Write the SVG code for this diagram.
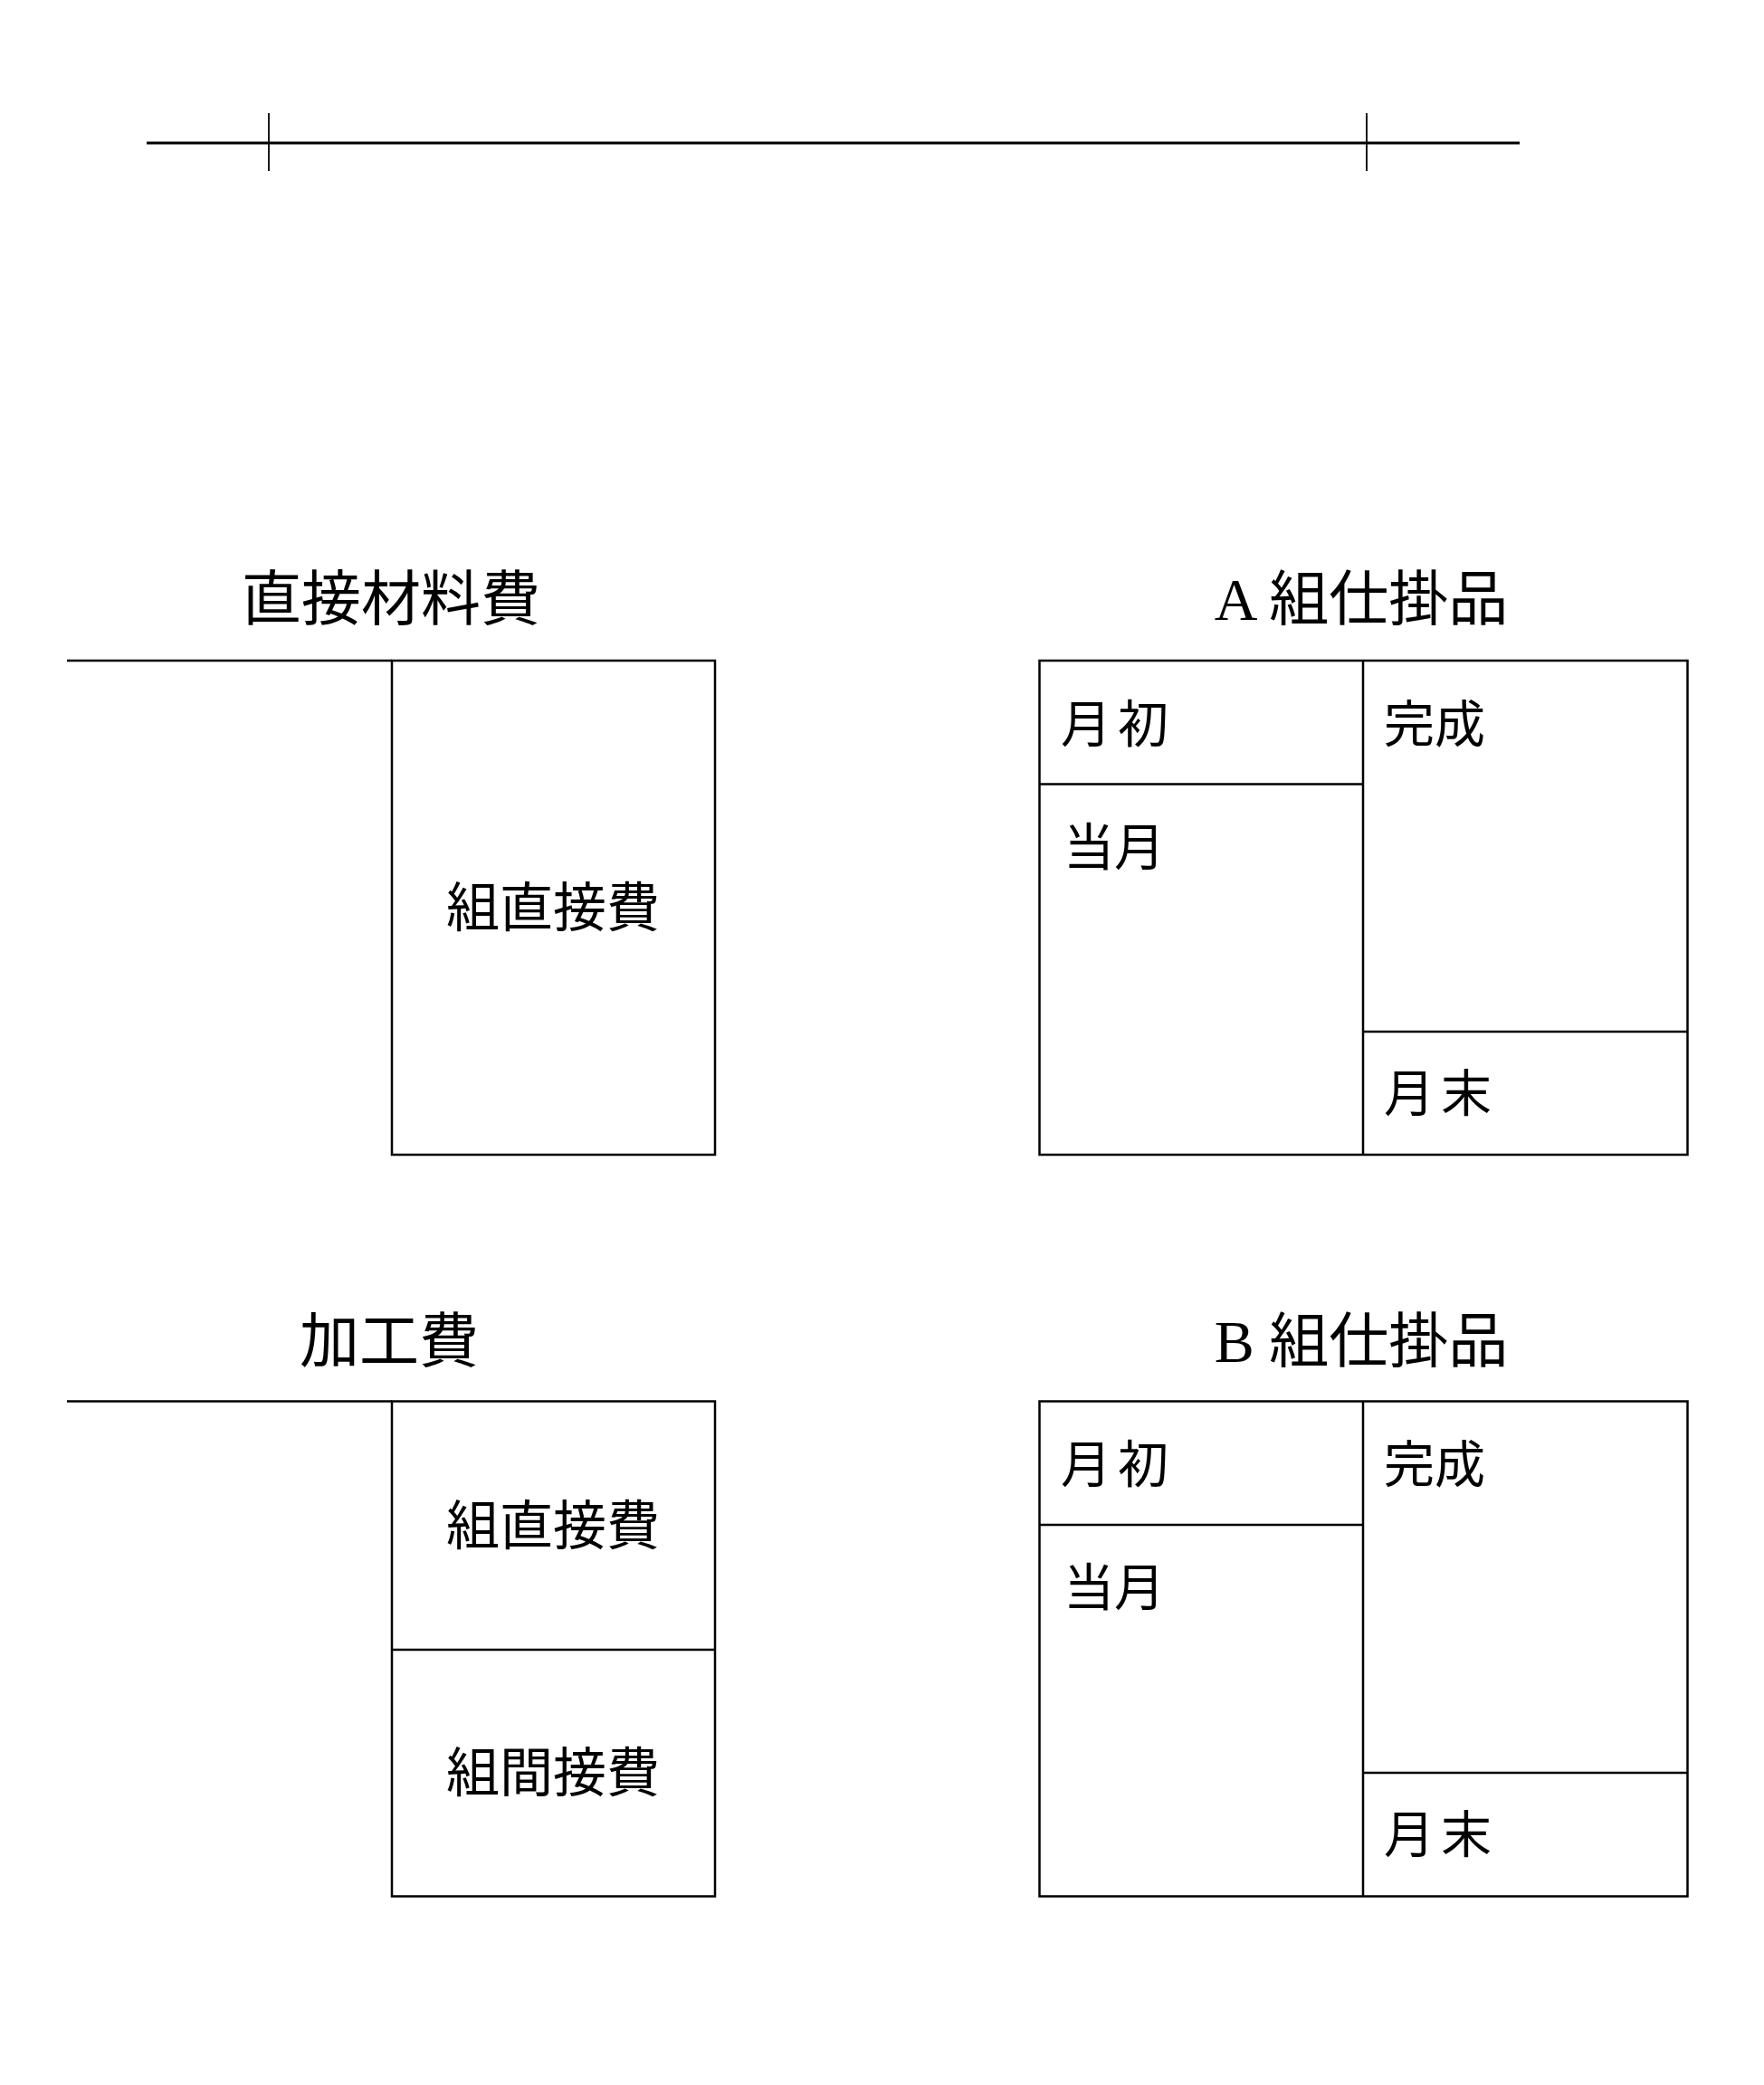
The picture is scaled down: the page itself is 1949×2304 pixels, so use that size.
<svg xmlns="http://www.w3.org/2000/svg" width="1949" height="2304" viewBox="0 0 1949 2304">
<style>
.ln{stroke:#000;stroke-width:2.5;fill:none}
.tk{stroke:#000;stroke-width:1.8;fill:none}
.top{stroke:#000;stroke-width:3;fill:none}
text{font-family:"Liberation Serif","Noto Sans CJK JP",serif;fill:#000;dominant-baseline:central}
.ti{font-size:66px;text-anchor:middle}
.bl{font-size:59px;text-anchor:middle}
.cl{font-size:56px}
.sp{letter-spacing:7px}
</style>
<rect width="1949" height="2304" fill="#fff"/>
<g id="timeline">
<line class="top" x1="162" y1="158" x2="1679" y2="158"/>
<line class="tk" x1="297" y1="125" x2="297" y2="189"/>
<line class="tk" x1="1510" y1="125" x2="1510" y2="189"/>
</g>
<g id="direct-material">
<text class="ti" x="432" y="662">直接材料費</text>
<line class="ln" x1="74" y1="730" x2="433" y2="730"/>
<rect class="ln" x="433" y="730" width="357" height="546"/>
<text class="bl" x="611" y="1004">組直接費</text>
</g>
<g id="conversion">
<text class="ti" x="430" y="1482">加工費</text>
<line class="ln" x1="74" y1="1548.5" x2="433" y2="1548.5"/>
<rect class="ln" x="433" y="1548.5" width="357" height="547"/>
<line class="ln" x1="433" y1="1823" x2="790" y2="1823"/>
<text class="bl" x="611" y="1687">組直接費</text>
<text class="bl" x="611" y="1960">組間接費</text>
</g>
<g id="wip-a">
<text class="ti" x="1504" y="662">A 組仕掛品</text>
<rect class="ln" x="1148.5" y="730" width="716" height="546"/>
<line class="ln" x1="1506" y1="730" x2="1506" y2="1276"/>
<line class="ln" x1="1148.5" y1="866.5" x2="1506" y2="866.5"/>
<line class="ln" x1="1506" y1="1140" x2="1864.5" y2="1140"/>
<text class="cl sp" x="1172" y="801">月初</text>
<text class="cl" x="1175" y="937">当月</text>
<text class="cl" x="1529" y="801">完成</text>
<text class="cl sp" x="1529" y="1209">月末</text>
</g>
<g id="wip-b">
<text class="ti" x="1504" y="1482">B 組仕掛品</text>
<rect class="ln" x="1148.5" y="1548.5" width="716" height="547"/>
<line class="ln" x1="1506" y1="1548.5" x2="1506" y2="2095.5"/>
<line class="ln" x1="1148.5" y1="1685" x2="1506" y2="1685"/>
<line class="ln" x1="1506" y1="1959" x2="1864.5" y2="1959"/>
<text class="cl sp" x="1172" y="1619">月初</text>
<text class="cl" x="1175" y="1755">当月</text>
<text class="cl" x="1529" y="1619">完成</text>
<text class="cl sp" x="1529" y="2028">月末</text>
</g>
<g id="connectors"></g>
</svg>
